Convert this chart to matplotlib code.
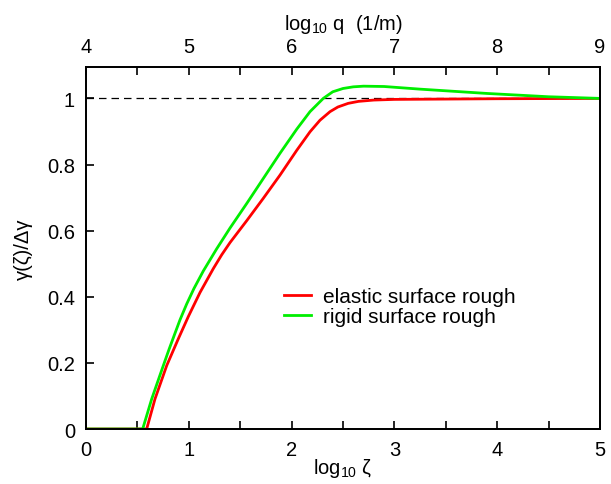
import matplotlib
matplotlib.use("Agg")
import matplotlib.pyplot as plt

plt.rcParams['font.family'] = ['Liberation Sans', 'DejaVu Sans']
plt.rcParams['mathtext.fontset'] = 'custom'
plt.rcParams['mathtext.rm'] = 'Liberation Sans'
plt.rcParams['mathtext.it'] = 'Liberation Sans:italic'

# data
green_x = [0, 0.551, 0.639, 0.752, 0.81, 0.866, 0.914, 0.979, 1.05, 1.141, 1.271,
           1.401, 1.563, 1.725, 1.887, 2.05, 2.179, 2.308, 2.40, 2.50, 2.60, 2.70,
           2.90, 3.25, 3.90, 4.50, 5.00]
green_y = [0, 0, 0.091, 0.192, 0.243, 0.29, 0.33, 0.378, 0.425, 0.478, 0.545,
           0.608, 0.682, 0.758, 0.834, 0.907, 0.96, 1.0, 1.02, 1.03, 1.035, 1.037,
           1.036, 1.028, 1.015, 1.005, 1.0]
red_x = [0, 0.59, 0.671, 0.785, 0.898, 0.995, 1.109, 1.238, 1.32, 1.401,
         1.563, 1.725, 1.887, 2.05, 2.179, 2.276, 2.374, 2.45, 2.55, 2.65, 2.80,
         3.00, 3.50, 4.00, 5.00]
red_y = [0, 0, 0.091, 0.192, 0.273, 0.34, 0.413, 0.485, 0.527, 0.564,
         0.630, 0.698, 0.768, 0.843, 0.899, 0.934, 0.96, 0.974, 0.985, 0.991, 0.995,
         0.997, 0.998, 0.999, 1.0]

xticks = [0, 1, 2, 3, 4, 5]
minor_xticks = [0.5, 1.5, 2.5, 3.5, 4.5]
top_ticks = [4, 5, 6, 7, 8, 9]
top_minor = [4.5, 5.5, 6.5, 7.5, 8.5]
yticks = [0, 0.2, 0.4, 0.6, 0.8, 1.0]
yticklabels = ['0', '0.2', '0.4', '0.6', '0.8', '1']

fs = 14.5
fig = plt.figure(figsize=(6.11, 4.85), dpi=100)
ax = fig.add_axes([0.1408, 0.1134, 0.8412, 0.7464])

ax.axhline(1.0, color='black', lw=0.9, ls=(0, (6, 4)))
ax.plot(red_x, red_y, color='#ff0000', lw=2.0, label='elastic surface rough',
        solid_joinstyle='round')
ax.plot(green_x, green_y, color='#00ee00', lw=2.0, label='rigid surface rough',
        solid_joinstyle='round')

ax.set_xlim(0, 5)
ax.set_ylim(0, 1.095)
ax.set_xticks(xticks)
ax.set_xticks(minor_xticks, minor=True)
ax.set_yticks(yticks)
ax.set_yticklabels(yticklabels)
ax.tick_params(axis='both', which='both', direction='in', length=6, width=1.2,
               color='black')
ax.tick_params(axis='both', which='major', labelsize=fs, pad=8)
for s in ax.spines.values():
    s.set_linewidth(1.3)

ax.set_xlabel(r'log$_{10}$ ζ', fontsize=fs, labelpad=-2)
ax.set_ylabel('γ(ζ)/Δγ', fontsize=fs, labelpad=10)

ax2 = ax.twiny()
ax2.set_xlim(4, 9)
ax2.set_xticks(top_ticks)
ax2.set_xticks(top_minor, minor=True)
ax2.tick_params(axis='x', which='both', direction='in', length=6, width=1.2,
                color='black')
ax2.tick_params(axis='x', which='major', labelsize=fs, pad=8)
ax2.set_xlabel(r'log$_{10}$ q  (1/m)', fontsize=fs, labelpad=6)
for s in ax2.spines.values():
    s.set_linewidth(1.3)

ax.legend(loc='upper left', bbox_to_anchor=(0.349, 0.443), frameon=False,
          fontsize=15, handlelength=1.3, handletextpad=0.55, labelspacing=0.05)

fig.savefig('out.png', dpi=100)
